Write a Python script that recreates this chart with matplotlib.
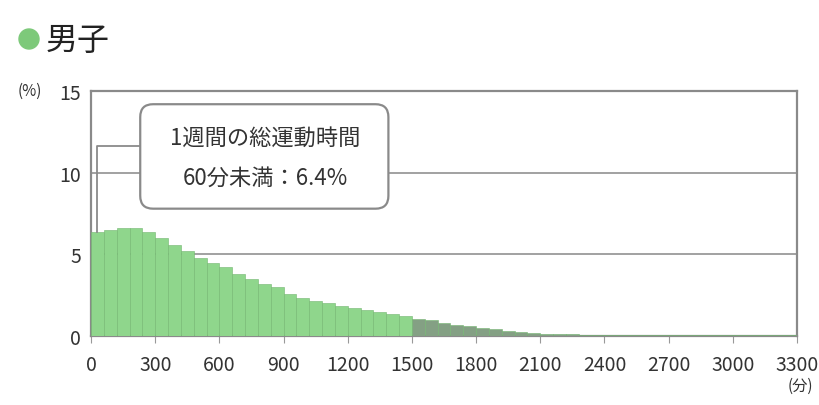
import matplotlib.pyplot as plt
from matplotlib.patches import FancyBboxPatch, Ellipse
import numpy as np

plt.rcParams['font.family'] = ['Noto Sans CJK JP', 'DejaVu Sans']

# weekly exercise time histogram (boys), 60-minute bins
bin_width = 60
values = [6.4, 6.5, 6.6, 6.6, 6.4, 6.0, 5.6, 5.2, 4.8, 4.5,
          4.2, 3.8, 3.5, 3.2, 3.0, 2.6, 2.3, 2.15, 2.0, 1.85,
          1.7, 1.6, 1.45, 1.35, 1.25, 1.05, 0.95, 0.8, 0.7, 0.6,
          0.5, 0.4, 0.3, 0.25, 0.18, 0.12, 0.1, 0.1, 0.09, 0.09,
          0.08, 0.08, 0.07, 0.07, 0.07, 0.06, 0.06, 0.06, 0.05, 0.05,
          0.05, 0.05, 0.05, 0.05, 0.05]
x_ticks = list(range(0, 3301, 300))
y_ticks = [0, 5, 10, 15]
title = "男子"
note_lines = ["1週間の総運動時間", "60分未満：6.4%"]

starts = np.arange(len(values)) * bin_width
colors = ["#8fd68c" if s < 1500 else "#84a084" for s in starts]

fig = plt.figure(figsize=(8.2, 4.06), dpi=100)
ax = fig.add_axes([0.111, 0.170, 0.861, 0.603])

ax.bar(starts, values, width=bin_width, align="edge", color=colors,
       edgecolor="#72b56f", linewidth=0.4, zorder=3)

ax.set_xlim(0, 3300)
ax.set_ylim(0, 15)
ax.set_xticks(x_ticks)
ax.set_yticks(y_ticks)
ax.tick_params(axis="x", labelsize=14, colors="#333333", length=5, pad=8, color="#999999")
ax.tick_params(axis="y", labelsize=14, colors="#333333", length=0, pad=7)
ax.grid(axis="y", color="#9a9a9a", linewidth=1.3, zorder=1)
for sp in ax.spines.values():
    sp.set_color("#8a8a8a")
    sp.set_linewidth(1.6)

# callout from first bar to the note box
ax.plot([30, 30, 230], [values[0], 11.63, 11.63], color="#8a8a8a", lw=1.3, zorder=4)
box = FancyBboxPatch((230, 7.8), 1160, 6.4, boxstyle="round,pad=0,rounding_size=60",
                     mutation_aspect=0.0131, fc="white", ec="#8a8a8a", lw=1.6, zorder=5)
ax.add_patch(box)
ax.text(813, 12.19, note_lines[0], ha="center", va="center", fontsize=16,
        color="#333333", zorder=6)
ax.text(813, 9.74, note_lines[1], ha="center", va="center", fontsize=16,
        color="#333333", zorder=6)

fig.text(18 / 820, 1 - 91 / 406, "(%)", fontsize=11, color="#333333", va="center")
fig.text(800 / 820, 1 - 386 / 406, "(分)", fontsize=11, color="#333333", ha="center", va="center")

fig.add_artist(Ellipse((29 / 820, 1 - 40 / 406), 20 / 820, 20 / 406,
                       transform=fig.transFigure, color="#7dc97a"))
fig.text(46 / 820, 1 - 41 / 406, title, fontsize=23, color="#222222", va="center")

plt.savefig("out.png", dpi=100)
